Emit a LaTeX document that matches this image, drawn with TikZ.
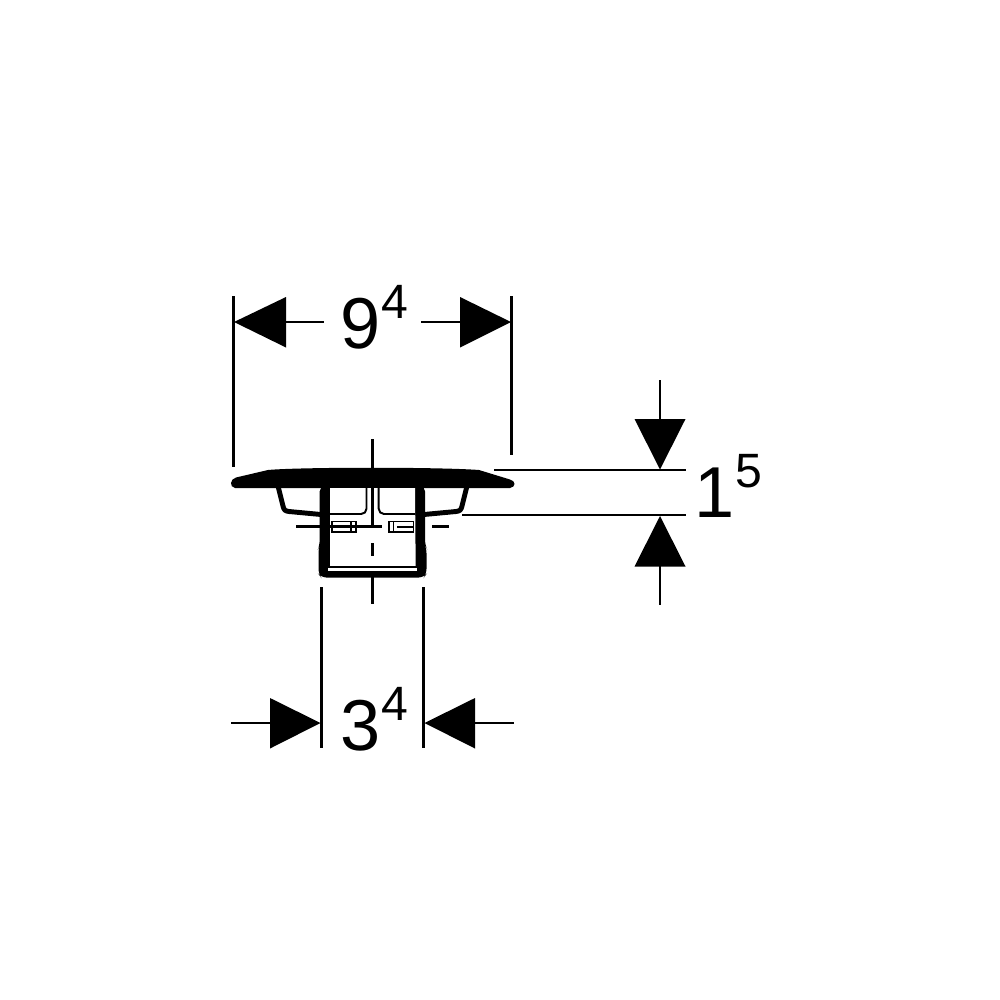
\documentclass[tikz,border=0pt]{standalone}
\usepackage{fontspec}
\setmainfont{Liberation Sans}
\newcommand{\dimtext}[2]{\fontsize{20.5pt}{24pt}\selectfont #1\kern0.3pt\raisebox{8.5pt}{\fontsize{13.7pt}{16pt}\selectfont #2}}
\tikzset{
  dimline/.style={line width=0.76pt,black},
  centreline/.style={line width=0.76pt,black},
  thinline/.style={line width=0.55pt,black},
  arrowhead/.style={fill=black,draw=none},
  heavy/.style={line width=1.4pt,black,line join=round},
  dimlabel/.style={anchor=base west,inner sep=0pt,outer sep=0pt}
}
\begin{document}
\begin{tikzpicture}[x=0.01cm,y=-0.01cm]
\useasboundingbox (0,0) rectangle (1000,1000);
\fill[white] (0,0) rectangle (1000,1000);
% cap
\fill[black] (236,477.5) .. controls (230,479) and (229,487) .. (235,488)
  -- (510,488) .. controls (516,487) and (516,481) .. (510,479.5)
  -- (479,470) .. controls (440,467) and (300,467) .. (268,470) -- cycle;
% lips
\draw[heavy] (278,486) -- (283,506) .. controls (284,510) and (285,511) .. (289,511.5) -- (321,514.5);
\draw[heavy] (467,486) -- (462,506) .. controls (461,510) and (460,511) .. (456,511.5) -- (424,514.5);
% body
\fill[black,rounded corners=1.5pt]
  (319.7,486) -- (319.7,545) -- (318.5,548) -- (318.5,574) -- (321,577.5) -- (424,577.5) -- (426.5,574) -- (426.5,548) -- (425,545) -- (425,486) -- cycle;
\fill[white] (330,488) -- (330,567) -- (415.7,567) -- (415,488) -- cycle;
\fill[black] (328,566.3) -- (417,566.3) -- (417,568) -- (328,568) -- cycle;
\fill[white] (328,568) -- (417,568) -- (417,570.5) -- (328,570.5) -- cycle;
% inner boxes
\draw[thinline,rounded corners=1.5pt] (366.5,487) -- (366.5,514) -- (330,514);
\draw[thinline,rounded corners=1.5pt] (378.7,487) -- (378.7,514) -- (415,514);
% centre lines
\coordinate (ct1) at (372.5,439);
\coordinate (ct2) at (372.5,527);
\coordinate (cm1) at (372.5,543);
\coordinate (cm2) at (372.5,556);
\coordinate (cb1) at (372.5,577);
\coordinate (cb2) at (372.5,604);
\coordinate (hl1) at (296,526.7);
\coordinate (hl2) at (382,526.7);
\coordinate (hr1) at (432,526.7);
\coordinate (hr2) at (449,526.7);
\draw[centreline] (ct1) -- (ct2);
\draw[centreline] (cm1) -- (cm2);
\draw[centreline] (cb1) -- (cb2);
\draw[centreline] (hl1) -- (hl2);
\draw[centreline] (hr1) -- (hr2);
% small clips
\draw[thinline] (332,521.5) rectangle (356,532);
\draw[thinline] (351,521.5) -- (351,532);
\draw[thinline] (389,521.5) rectangle (413.5,532);
\draw[thinline] (393.5,521.5) -- (393.5,532);
\draw[thinline] (397,526.7) -- (413.5,526.7);
% top dimension
\coordinate (tl1) at (233.5,296);
\coordinate (tl2) at (233.5,467);
\coordinate (tr1) at (511.5,296);
\coordinate (tr2) at (511.5,455);
\draw[dimline] (tl1) -- (tl2);
\draw[dimline] (tr1) -- (tr2);
\fill[arrowhead] (234,322) -- (286,297) -- (286,347.5) -- cycle;
\fill[arrowhead] (511,322) -- (460,297) -- (460,347.5) -- cycle;
\coordinate (ta1) at (286,322);
\coordinate (ta2) at (324,322);
\coordinate (ta3) at (421,322);
\coordinate (ta4) at (460,322);
\draw[dimline] (ta1) -- (ta2);
\draw[dimline] (ta3) -- (ta4);
\node[dimlabel] (topdim) at (340,348) {\dimtext{9}{4}};
% right dimension
\coordinate (rt1) at (494,470);
\coordinate (rt2) at (686,470);
\coordinate (rb1) at (462,515);
\coordinate (rb2) at (686,515);
\draw[dimline] (rt1) -- (rt2);
\draw[dimline] (rb1) -- (rb2);
\fill[arrowhead] (660,469.5) -- (634.5,419) -- (685.5,419) -- cycle;
\fill[arrowhead] (660,516) -- (634.5,566.5) -- (685.5,566.5) -- cycle;
\coordinate (ra1) at (660,380);
\coordinate (ra2) at (660,419);
\coordinate (ra3) at (660,566);
\coordinate (ra4) at (660,605);
\draw[dimline] (ra1) -- (ra2);
\draw[dimline] (ra3) -- (ra4);
\node[dimlabel] (rightdim) at (694,517) {\dimtext{1}{5}};
% bottom dimension
\coordinate (bl1) at (321.5,587);
\coordinate (bl2) at (321.5,748);
\coordinate (br1) at (423.5,587);
\coordinate (br2) at (423.5,748);
\draw[dimline] (bl1) -- (bl2);
\draw[dimline] (br1) -- (br2);
\fill[arrowhead] (320.5,723) -- (270,698) -- (270,748.5) -- cycle;
\fill[arrowhead] (424.5,723) -- (475,698) -- (475,748.5) -- cycle;
\coordinate (ba1) at (231,723);
\coordinate (ba2) at (270,723);
\coordinate (ba3) at (475,723);
\coordinate (ba4) at (514,723);
\draw[dimline] (ba1) -- (ba2);
\draw[dimline] (ba3) -- (ba4);
\node[dimlabel] (botdim) at (340,750) {\dimtext{3}{4}};
\end{tikzpicture}
\end{document}
